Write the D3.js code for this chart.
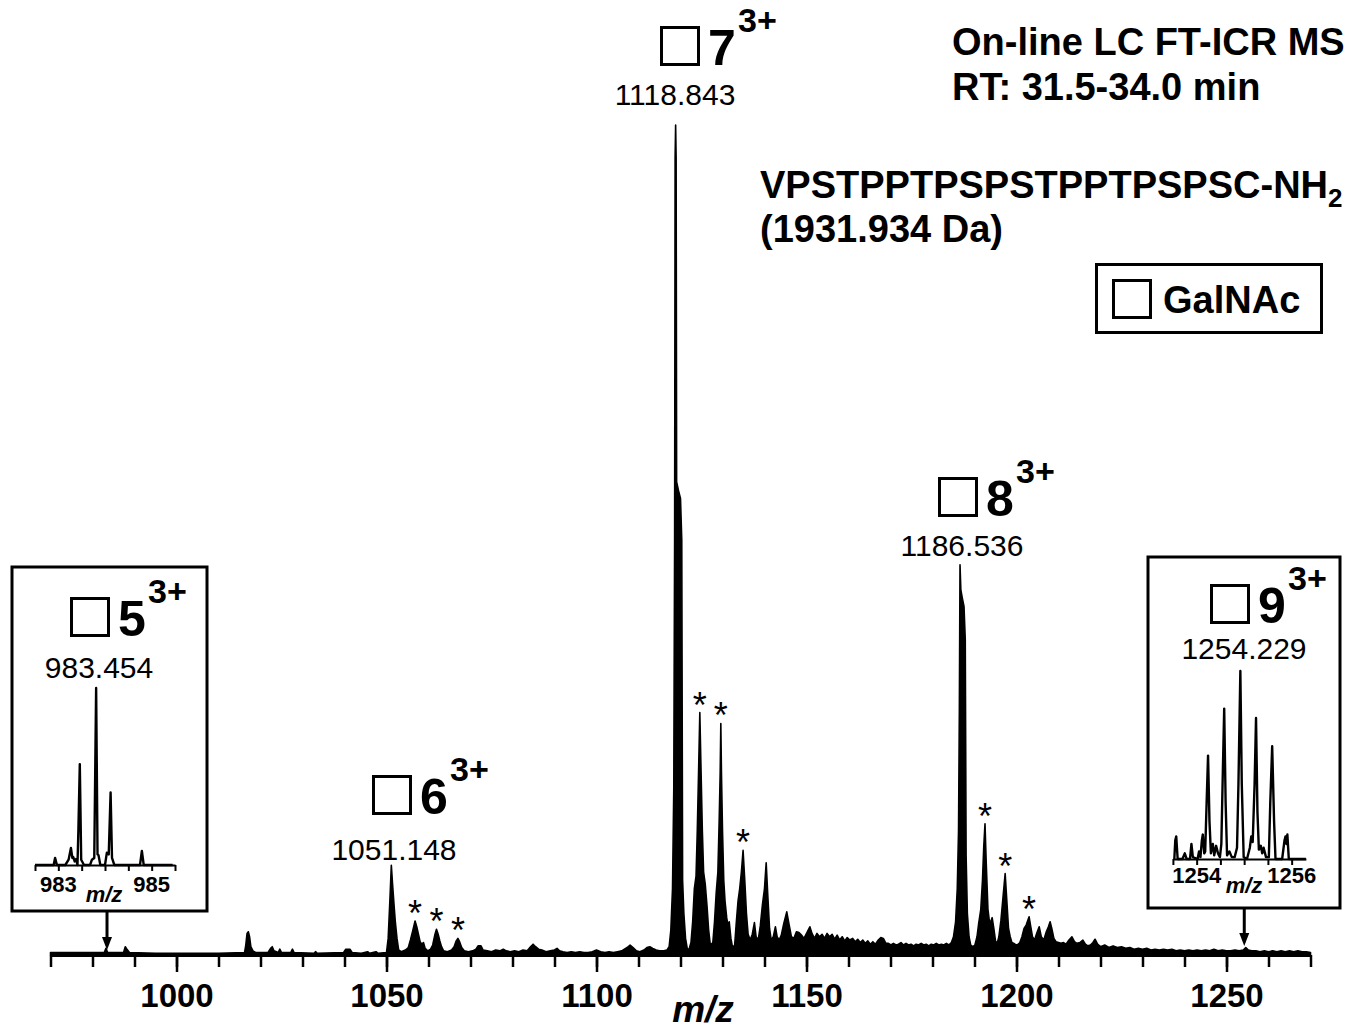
<!DOCTYPE html>
<html>
<head>
<meta charset="utf-8">
<script src="https://cdn.jsdelivr.net/npm/d3@7"></script>
<style>
body { margin: 0; background: #fff; }
svg text { font-family: "Liberation Sans", Arial, sans-serif; fill: #000; }
</style>
</head>
<body>
<div class="spectrumDiv"></div>
<script>
// profile of the spectrum, [m/z, relative intensity %]
var profileLow = [
    [970,0.3],[975,0.3],[982.8,0.3],[983.2,0.8],[983.6,0.3],[987.4,0.3],[987.8,1.0],[988.2,0.7],[988.8,0.3],
    [995,0.2],[1000,0.2],[1010,0.2],[1016.2,0.3],[1016.5,1.2],[1016.8,2.6],[1017.1,2.8],[1017.4,2.2],[1017.7,1.0],
    [1018.2,0.5],[1018.8,0.3],[1021.8,0.3],[1022.4,0.8],[1022.8,1.0],[1023.2,0.5],[1024.2,0.3],[1024.6,0.7],
    [1025.0,0.3],[1027.2,0.3],[1027.6,0.7],[1028.0,0.3],[1032.8,0.2],[1033.1,0.4],[1033.5,0.2],[1039.8,0.3],
    [1040.3,0.7],[1041.3,0.7],[1041.8,0.3],[1044,0.2],[1045.5,0.4],[1046,0.2],[1047.5,0.4],[1048,0.2],
    [1050.0,0.3],[1050.4,2],[1050.8,6.5],[1051.15,10.8],[1051.45,8.5],[1051.8,6],[1052.1,4],[1052.5,2],[1052.9,0.6],
    [1053.5,0.4],[1054.5,0.6],[1055.2,0.9],[1055.7,1.8],[1056.2,2.8],[1056.8,4.1],[1057.2,3.4],[1057.6,2.5],
    [1058.0,1.6],[1058.4,1.3],[1058.8,1.5],[1059.2,0.8],[1059.8,0.5],[1060.5,0.7],[1061.0,1.2],[1061.5,2.4],
    [1061.9,3.1],[1062.3,2.5],[1062.7,1.7],[1063.1,1.0],[1063.6,0.5],[1064.5,0.4],[1065.5,0.6],[1066.1,1.0],
    [1066.6,1.7],[1067.0,2.0],[1067.4,1.6],[1067.9,0.9],[1068.5,0.5],[1069.5,0.4],[1070.5,0.5],[1071.3,0.7],
    [1071.8,1.1],[1072.5,1.1],[1073.0,0.6],[1074,0.5],[1075,0.4],[1076,0.6],[1077,0.5],[1077.8,0.7],[1078.5,0.5],
    [1079.5,0.4],[1080.5,0.5],[1081.5,0.4],[1082.5,0.6],[1083.5,0.5],[1084.3,1.0],[1084.9,1.3],[1085.5,1.0],
    [1086.2,0.7],[1087,0.6],[1088,0.4],[1089,0.5],[1090,0.6],[1090.6,0.8],[1091.2,0.5],[1092,0.4],[1093,0.3],
    [1094,0.4],[1095,0.3],[1096,0.4],[1097,0.3],[1098,0.3],[1099,0.4],[1100,0.6],[1101,0.4]
];

var profileMid = [
    [1102,0.3],[1103,0.4],[1104,0.3],[1105,0.4],[1106,0.5],[1107.3,0.9],[1108,1.2],[1108.7,0.9],[1109.5,0.5],
    [1110.3,0.4],[1111.3,0.6],[1112,0.9],[1112.7,1.0],[1113.4,0.8],[1114.2,0.6],[1115,0.5],[1116,0.5],[1116.8,0.6],
    [1117.3,1.0],[1117.7,3],[1118.1,8],[1118.4,20],[1118.6,50],[1118.72,96],[1118.84,100],[1118.96,96],[1119.08,57],
    [1119.5,56],[1120.0,55],[1120.3,50],[1120.5,9],[1120.8,5],[1121.2,2],[1121.6,0.8],[1122.0,0.6],
    [1122.5,1.5],[1122.9,4],[1123.3,8],[1123.7,9.5],[1124.0,15],[1124.3,22],[1124.6,29.2],[1124.9,22],[1125.2,15],
    [1125.5,10],[1125.9,8.5],[1126.3,6],[1126.7,3],[1127.1,1.2],
    [1127.7,1.5],[1128.1,4],[1128.5,7.5],[1128.9,10],[1129.2,16],[1129.45,22],[1129.6,27.9],[1129.75,22],
    [1130.0,15],[1130.3,9],[1130.6,6.5],[1131.0,4.5],[1131.3,3.5],[1131.6,4],[1132.0,2],[1132.4,0.9],
    [1132.9,1.2],[1133.3,4],[1133.7,6.5],[1134.1,8],[1134.5,10],[1134.9,12.6],[1135.3,9],[1135.7,5],[1136.1,2.5],
    [1136.6,1.8],[1137.1,2.5],[1137.6,3.9],[1138.0,2.2],[1138.5,1.8],[1139.0,3.5],[1139.5,6],[1140.0,8],
    [1140.4,11.1],[1140.8,7],[1141.2,3.2],[1141.6,1.8],[1142.1,2.2],[1142.6,3.4],[1143.0,2.2],[1143.5,1.8],
    [1144.0,2.4],[1144.6,3.8],[1145.3,5.2],[1145.8,3.8],[1146.4,2.2],[1147.0,2.0],[1147.6,2.8],[1148.2,2.7],
    [1148.8,2.4],[1149.4,2.0],[1150.2,2.8],[1150.8,3.4],[1151.3,2.6],[1151.9,2.0],[1152.5,2.6],[1153.1,2.2],
    [1153.7,2.5],[1154.3,2.0],[1154.9,2.6],[1155.5,2.2],[1156.1,2.5],[1156.7,1.9],[1157.3,2.4],[1157.9,1.8],
    [1158.5,2.2],[1159.1,1.7],[1159.7,2.1]
];

var profileHigh = [
    [1160.3,1.8],[1161,2.0],[1161.6,1.6],[1162.2,1.9],[1162.8,1.5],[1163.4,1.8],[1164,1.4],[1164.6,1.7],[1165.2,1.3],
    [1165.8,1.6],[1166.4,1.3],[1167.1,1.8],[1167.7,2.1],[1168.3,2.0],[1168.9,1.4],[1169.5,1.4],[1170.1,1.2],
    [1170.7,1.4],[1171.3,1.2],[1171.9,1.3],[1172.5,1.5],[1173.1,1.2],[1173.7,1.4],[1174.3,1.2],[1174.9,1.3],
    [1175.5,1.1],[1176.1,1.3],[1176.7,1.2],[1177.3,1.4],[1177.9,1.2],[1178.5,1.3],[1179.1,1.1],[1179.7,1.3],
    [1180.3,1.2],[1180.9,1.4],[1181.5,1.2],[1182.1,1.3],[1182.7,1.2],[1183.3,1.4],[1183.9,1.2],[1184.5,1.5],
    [1185.0,2.2],[1185.5,4],[1185.9,8],[1186.2,15],[1186.4,30],[1186.55,47],[1186.75,44],[1187.1,43],[1187.5,42],
    [1187.8,38],[1188.0,12],[1188.3,5],[1188.7,2.2],[1189.1,1.2],[1189.6,1.0],[1190.1,1.2],
    [1190.6,2.2],[1191.0,3.8],[1191.5,5.5],[1191.9,9],[1192.2,13],[1192.5,15.8],[1192.8,11],[1193.2,5.5],[1193.6,3.8],
    [1194.0,4.2],[1194.2,4.5],[1194.6,3.2],[1195.0,1.7],[1195.4,1.4],[1195.8,2.2],[1196.3,4.2],[1196.8,7],
    [1197.3,9.8],[1197.7,6.5],[1198.1,3.2],[1198.5,2.2],[1198.9,1.5],[1199.4,1.4],[1199.9,1.2],[1200.4,1.3],
    [1200.8,1.5],[1201.3,2.2],[1201.8,3.2],[1202.3,3.6],[1203.0,4.6],[1203.4,3.4],[1203.8,2.2],[1204.3,1.8],
    [1204.8,2.6],[1205.4,3.4],[1205.9,2.2],[1206.5,1.8],[1207.1,2.8],[1207.6,3.4],[1208.0,4.0],[1208.4,3.2],
    [1208.9,2.0],[1209.4,1.6],[1210,1.5],[1210.6,1.4],[1211.2,1.5],[1211.8,1.3],[1212.5,1.8],[1213.2,2.2],
    [1213.8,1.6],[1214.4,1.4],[1215.1,1.5],[1215.8,1.8],[1216.4,1.3],[1217.0,1.1],[1217.6,1.2],[1218.2,1.5],
    [1218.7,1.9],[1219.3,1.3],[1220,1.0],[1221,1.2],[1222,0.9],[1223,1.1],[1224,0.9],[1225,1.0],[1226,0.8],
    [1227,0.9],[1228,0.7],[1229,0.8],[1230,0.7],[1231,0.8],[1232,0.6],[1233,0.7],[1234,0.6],[1235,0.7],[1236,0.6],
    [1237,0.7],[1238,0.5],[1239,0.6],[1240,0.5],[1241,0.6],[1242,0.5],[1243,0.6],[1244,0.5],[1245,0.6],[1246,0.5],
    [1247,0.7],[1248,0.5],[1249,0.6],[1250,0.5],[1251,0.5],[1252,0.6],[1253,0.5],[1254,0.6],[1254.6,0.9],
    [1255.2,0.6],[1256,0.5],[1257,0.5],[1258,0.4],[1259,0.5],[1260,0.4],[1261,0.5],[1262,0.4],[1263,0.5],
    [1264,0.4],[1265,0.5],[1266,0.4],[1267,0.5],[1268,0.4],[1269,0.4],[1270,0.3]
];

// peaks marked with an asterisk [m/z, intensity]
var starPeaks = [[1056.8,4.1],[1061.9,3.1],[1067.0,2.0],[1124.6,29.2],[1129.6,27.9],[1134.9,12.6],[1192.5,15.8],[1197.3,9.8],[1203.0,4.6]];

// zoomed isotope clusters
var inset5 = [
    [982.5,0],[982.9,0],[982.93,4],[982.97,0],[983.15,0],[983.22,3],[983.27,9.6],[983.3,4],[983.32,4.5],[983.35,2],
    [983.38,3.4],[983.41,0],[983.43,20],[983.46,57],[983.49,3],[983.55,0],[983.68,0],[983.72,3],[983.77,4],
    [983.81,100],[983.84,6],[983.86,5.6],[983.9,0],[984.0,0],[984.04,7],[984.08,6],[984.12,41],[984.15,4],
    [984.2,0],[984.75,0],[984.79,8],[984.83,0],[985.45,0]
];
var inset9 = [
    [1253.53,0],[1253.55,10],[1253.57,12],[1253.6,0],[1253.7,0],[1253.75,3],[1253.79,0],[1253.86,0],[1253.89,8],
    [1253.92,1],[1254.02,0],[1254.05,4],[1254.08,1],[1254.11,10],[1254.13,13],[1254.16,3],[1254.18,4],[1254.21,30],
    [1254.24,55],[1254.27,20],[1254.3,3],[1254.34,8],[1254.37,2],[1254.41,7],[1254.45,3],[1254.49,1],[1254.52,8],
    [1254.55,45],[1254.58,80],[1254.61,30],[1254.64,2],[1254.69,4],[1254.74,1],[1254.8,1],[1254.85,6],[1254.88,40],
    [1254.92,100],[1254.95,40],[1254.99,1],[1255.06,0],[1255.12,6],[1255.15,12],[1255.18,9],[1255.22,40],
    [1255.25,75],[1255.28,25],[1255.31,5],[1255.35,7],[1255.38,3],[1255.41,6],[1255.46,1],[1255.52,1],[1255.55,30],
    [1255.59,60],[1255.63,20],[1255.66,0],[1255.8,0],[1255.85,10],[1255.87,12],[1255.89,8],[1255.91,13],
    [1255.94,0],[1256.3,0]
];

var majorTicks = [1000, 1050, 1100, 1150, 1200, 1250];
var inset5Labels = [983, 985];
var inset9Labels = [1254, 1256];

var ionNumbers = ['5', '6', '7', '8', '9'];
var ionCharge = '3+';
var ionMz = [983.454, 1051.148, 1118.843, 1186.536, 1254.229];

// layout of the ion annotations (outer top-left of square, centre/baseline of m/z text)
var ionLayout = [
    {sx: 70, sy: 597, tx: 99, ty: 678},
    {sx: 372, sy: 775, tx: 394, ty: 860},
    {sx: 660, sy: 26, tx: 675, ty: 105},
    {sx: 938, sy: 477, tx: 962, ty: 556},
    {sx: 1210, sy: 584, tx: 1244, ty: 659}
];

const chartWidth = 1358;
const chartHeight = 1032;
const baseY = 955;

var svg = d3.select('.spectrumDiv')
    .append('svg')
    .attr('width', chartWidth)
    .attr('height', chartHeight);

const x = d3.scaleLinear().domain([970, 1270]).range([50.5, 1310.5]);
const y = d3.scaleLinear().domain([0, 100]).range([baseY, 125]);

// main spectrum
var spectrum = profileLow.concat(profileMid, profileHigh);
var area = d3.area()
    .x(d => x(d[0]))
    .y0(y(0))
    .y1(d => y(d[1]));

svg.append('path')
    .datum(spectrum)
    .attr('d', area)
    .attr('fill', 'black')
    .attr('stroke', 'black')
    .attr('stroke-width', 1.6)
    .attr('stroke-linejoin', 'round');

// axis
var minorAxis = d3.axisBottom(x)
    .tickValues(d3.range(970, 1271, 10))
    .tickSize(12)
    .tickSizeOuter(0)
    .tickFormat('');
var majorAxis = d3.axisBottom(x)
    .tickValues(majorTicks)
    .tickSize(17)
    .tickSizeOuter(0)
    .tickPadding(12)
    .tickFormat(d3.format('d'));

var gMinor = svg.append('g').attr('transform', `translate(0,${baseY})`).call(minorAxis);
gMinor.select('.domain').attr('stroke-width', 3);
gMinor.selectAll('.tick line').attr('stroke-width', 2.5);

var gMajor = svg.append('g').attr('transform', `translate(0,${baseY})`).call(majorAxis);
gMajor.select('.domain').remove();
gMajor.selectAll('.tick line').attr('stroke-width', 2.5);
gMajor.selectAll('.tick text')
    .style('font-family', '"Liberation Sans", Arial, sans-serif')
    .style('font-size', '33px')
    .style('font-weight', 'bold');

svg.append('text')
    .attr('x', 703)
    .attr('y', 1022)
    .attr('text-anchor', 'middle')
    .style('font-size', '37px')
    .style('font-weight', 'bold')
    .style('font-style', 'italic')
    .text('m/z');

// asterisks
svg.selectAll('text.star')
    .data(starPeaks)
    .enter()
    .append('text')
    .attr('class', 'star')
    .attr('x', d => x(d[0]))
    .attr('y', d => y(d[1]) + 5)
    .attr('text-anchor', 'middle')
    .style('font-size', '36px')
    .text('*');

// ion annotations
function drawIon(i){
    const lay = ionLayout[i];
    svg.append('rect')
        .attr('x', lay.sx + 1.5)
        .attr('y', lay.sy + 1.5)
        .attr('width', 37)
        .attr('height', 37)
        .attr('fill', 'none')
        .attr('stroke', 'black')
        .attr('stroke-width', 3);
    svg.append('text')
        .attr('x', lay.sx + 48)
        .attr('y', lay.sy + 39)
        .style('font-size', '50px')
        .style('font-weight', 'bold')
        .text(ionNumbers[i]);
    svg.append('text')
        .attr('x', lay.sx + 78)
        .attr('y', lay.sy + 6)
        .style('font-size', '34px')
        .style('font-weight', 'bold')
        .text(ionCharge);
    svg.append('text')
        .attr('x', lay.tx)
        .attr('y', lay.ty)
        .attr('text-anchor', 'middle')
        .style('font-size', '30px')
        .text(ionMz[i].toFixed(3));
}

// inset boxes
function drawInset(box, domain, range, axisY, peakH, data, labels, labelY, mzY, mzX){
    svg.append('rect')
        .attr('x', box[0])
        .attr('y', box[1])
        .attr('width', box[2])
        .attr('height', box[3])
        .attr('fill', 'white')
        .attr('stroke', 'black')
        .attr('stroke-width', 3);

    const ix = d3.scaleLinear().domain(domain).range(range);
    const iy = d3.scaleLinear().domain([0, 100]).range([axisY, axisY - peakH]);

    svg.append('path')
        .datum(data)
        .attr('d', d3.line().x(d => ix(d[0])).y(d => iy(d[1])))
        .attr('fill', 'none')
        .attr('stroke', 'black')
        .attr('stroke-width', 2.4)
        .attr('stroke-linejoin', 'round');

    const iAxis = d3.axisBottom(ix)
        .tickValues(d3.range(domain[0], domain[1] + 0.01, 0.5))
        .tickSize(6)
        .tickSizeOuter(0)
        .tickFormat('');
    const g = svg.append('g').attr('transform', `translate(0,${axisY})`).call(iAxis);
    g.select('.domain').attr('stroke-width', 2);
    g.selectAll('.tick line').attr('stroke-width', 2);

    svg.selectAll(null)
        .data(labels)
        .enter()
        .append('text')
        .attr('x', d => ix(d))
        .attr('y', labelY)
        .attr('text-anchor', 'middle')
        .style('font-size', '22px')
        .style('font-weight', 'bold')
        .text(d => d);

    svg.append('text')
        .attr('x', mzX)
        .attr('y', mzY)
        .attr('text-anchor', 'middle')
        .style('font-size', '22px')
        .style('font-weight', 'bold')
        .style('font-style', 'italic')
        .text('m/z');
}

drawInset([12, 567, 195, 344], [982.5, 985.5], [35, 175], 865, 177, inset5, inset5Labels, 892, 902, 104);
drawInset([1148, 557, 192, 351], [1253.5, 1256.3], [1172.9, 1305.9], 859, 188, inset9, inset9Labels, 883, 893, 1244);

// arrows from the insets to the spectrum
function drawArrow(mz, y0, y1){
    const ax = x(mz);
    svg.append('line')
        .attr('x1', ax).attr('x2', ax)
        .attr('y1', y0).attr('y2', y1 - 8)
        .attr('stroke', 'black')
        .attr('stroke-width', 3);
    svg.append('path')
        .attr('d', `M${ax - 5},${y1 - 13} L${ax + 5},${y1 - 13} L${ax},${y1} Z`)
        .attr('fill', 'black');
}
drawArrow(ionMz[0], 911, 950);
drawArrow(ionMz[4], 908, 946);

ionNumbers.forEach((d, i) => drawIon(i));

// header texts
svg.append('text').attr('x', 952).attr('y', 55)
    .style('font-size', '38px').style('font-weight', 'bold')
    .text('On-line LC FT-ICR MS');
svg.append('text').attr('x', 952).attr('y', 100)
    .style('font-size', '38px').style('font-weight', 'bold')
    .text('RT: 31.5-34.0 min');

var seq = svg.append('text').attr('x', 760).attr('y', 198)
    .style('font-size', '38px').style('font-weight', 'bold');
seq.append('tspan').text('VPSTPPTPSPSTPPTPSPSC-NH');
seq.append('tspan').attr('dy', 9).style('font-size', '26px').text('2');

svg.append('text').attr('x', 760).attr('y', 242)
    .style('font-size', '38px').style('font-weight', 'bold')
    .text('(1931.934 Da)');

// legend
svg.append('rect')
    .attr('x', 1096.5).attr('y', 264.5)
    .attr('width', 225).attr('height', 68)
    .attr('fill', 'none').attr('stroke', 'black').attr('stroke-width', 3);
svg.append('rect')
    .attr('x', 1113.5).attr('y', 280.5)
    .attr('width', 37).attr('height', 37)
    .attr('fill', 'none').attr('stroke', 'black').attr('stroke-width', 3);
svg.append('text').attr('x', 1163).attr('y', 313)
    .style('font-size', '38px').style('font-weight', 'bold')
    .text('GalNAc');
</script>
</body>
</html>
